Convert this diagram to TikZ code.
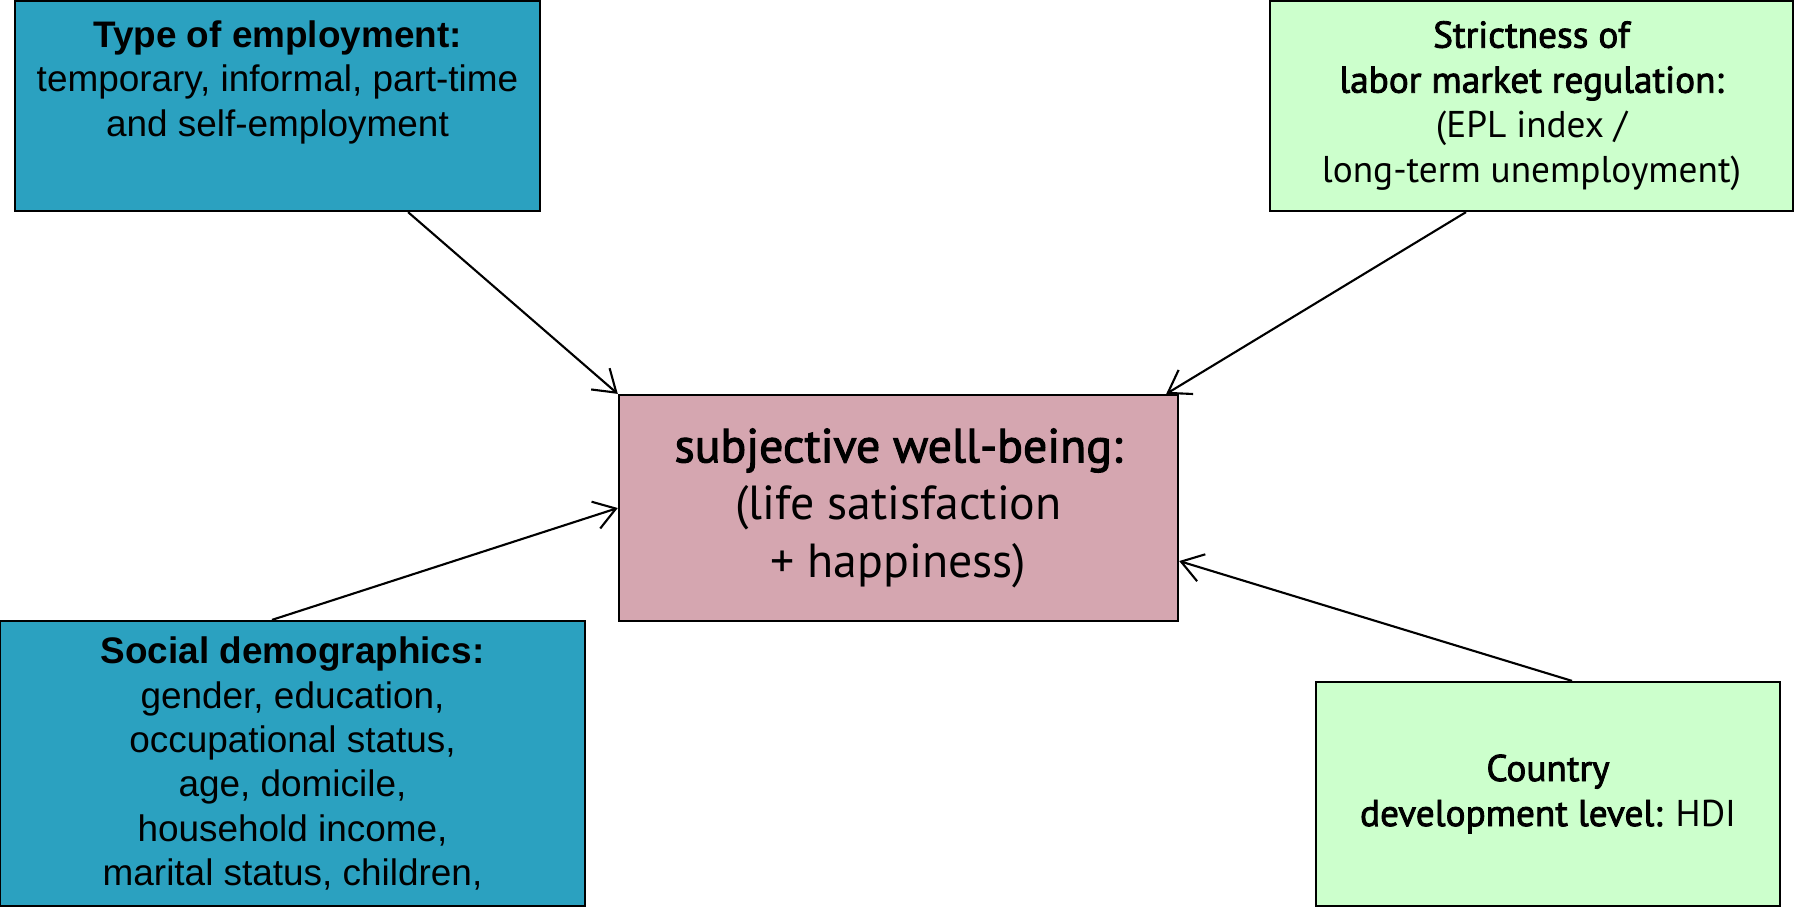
\documentclass[tikz,border=0pt]{standalone}
\usepackage{fontspec}
\setmainfont{Liberation Sans}
\newfontfamily\narrowfont{PT Sans}
\newfontfamily\narrowmed[FakeBold=2.2]{PT Sans}
\usetikzlibrary{arrows.meta}

\definecolor{empblue}{RGB}{43,161,192}
\definecolor{regreen}{RGB}{204,255,204}
\definecolor{swbpink}{RGB}{213,166,176}

\tikzset{
  factor/.style={shape=rectangle,draw=black,line width=0.6pt,align=center,
    font=\fontsize{10.5}{12.6}\selectfont},
  bluebox/.style={factor,fill=empblue},
  greenbox/.style={factor,fill=regreen,font=\narrowfont\fontsize{10.6}{12.8}\selectfont},
  pinkbox/.style={factor,fill=swbpink,font=\narrowfont\fontsize{13.6}{16.3}\selectfont},
  influence/.style={->,line width=0.6pt,>={Straight Barb[length=6pt,width=8pt]}}
}

\begin{document}
\begin{tikzpicture}[x=0.01cm,y=-0.01cm]

	\useasboundingbox (0,0) rectangle (1794,908);

	\node[bluebox,minimum width=5.25cm,minimum height=2.1cm] (emp) at (277.5, 106) {};
	\node[factor,draw=none,anchor=north] (emptext) at ([yshift=-0.08cm]emp.north)
		{\textbf{Type of employment:}\\temporary, informal, part-time\\and self-employment};
	\node[greenbox,minimum width=5.23cm,minimum height=2.1cm] (reg) at (1531.5, 106)
		{\narrowmed Strictness of\\\narrowmed labor market regulation:\\(EPL index /\\long-term unemployment)};
	\node[pinkbox,minimum width=5.59cm,minimum height=2.26cm] (swb) at (898.5, 508)
		{\narrowmed subjective well-being:\\(life satisfaction\\+ happiness)};
	\node[bluebox,minimum width=5.85cm,minimum height=2.85cm] (soc) at (292.5, 763.5)
		{\textbf{Social demographics:}\\gender, education,\\occupational status,\\age, domicile,\\household income,\\marital status, children,};
	\node[greenbox,minimum width=4.64cm,minimum height=2.24cm] (hdi) at (1548, 794)
		{\narrowmed Country\\{\narrowmed development level:} HDI};

	\path[influence] ([xshift=1.305cm]emp.south) edge (swb.north west);
	\path[influence] ([xshift=-0.655cm]reg.south) edge ([xshift=-0.13cm]swb.north east);
	\path[influence] ([xshift=-0.205cm]soc.north) edge (swb.west);
	\path[influence] ([xshift=0.24cm]hdi.north) edge ([yshift=-0.53cm]swb.east);

\end{tikzpicture}
\end{document}
